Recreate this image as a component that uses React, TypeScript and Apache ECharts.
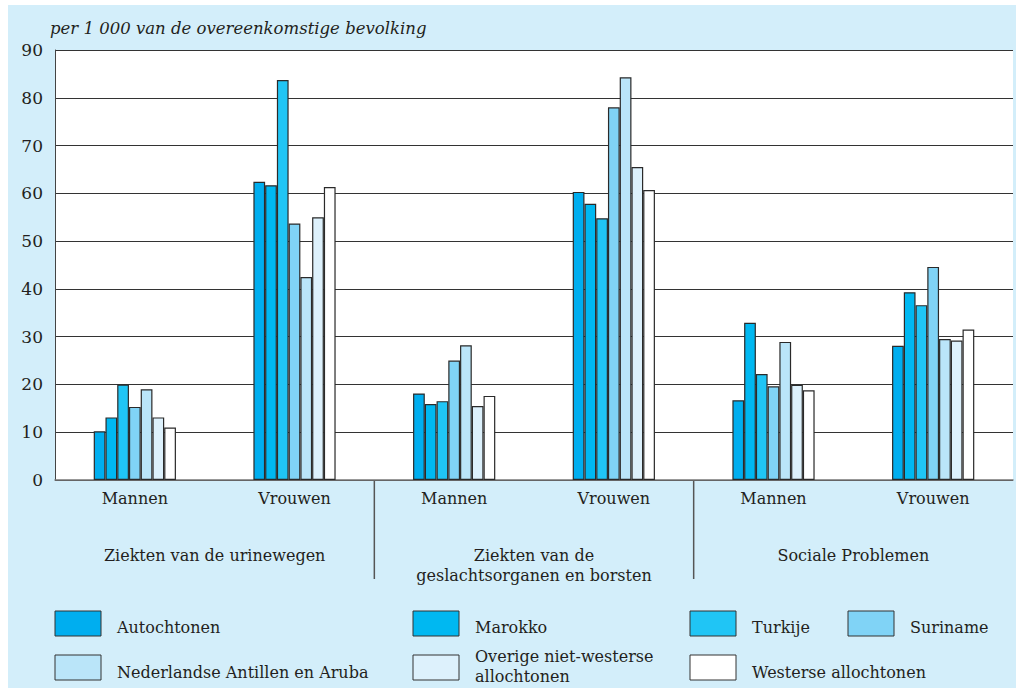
import React, { useEffect, useRef } from "react";
import * as echarts from "echarts";

const categories = ["Mannen", "Vrouwen", "Mannen", "Vrouwen", "Mannen", "Vrouwen"];
const groupLabels = [
  "Ziekten van de urinewegen",
  "Ziekten van de\ngeslachtsorganen en borsten",
  "Sociale Problemen",
];
const seriesNames = [
  "Autochtonen",
  "Marokko",
  "Turkije",
  "Suriname",
  "Nederlandse Antillen en Aruba",
  "Overige niet-westerse\nallochtonen",
  "Westerse allochtonen",
];
const autochtonen = [10.2, 62.4, 18.1, 60.3, 16.7, 28.1];
const marokko = [13.1, 61.7, 15.9, 57.8, 32.9, 39.3];
const turkije = [20.0, 83.7, 16.5, 54.8, 22.2, 36.6];
const suriname = [15.3, 53.7, 25.0, 78.0, 19.6, 44.6];
const antillen = [19.0, 42.5, 28.2, 84.3, 28.9, 29.5];
const overige = [13.1, 55.0, 15.5, 65.5, 19.9, 29.2];
const westerse = [11.0, 61.3, 17.6, 60.7, 18.8, 31.5];
const seriesValues = [autochtonen, marokko, turkije, suriname, antillen, overige, westerse];
const yTicks = { min: 0, max: 90, interval: 10 };

const colors = ["#00aeef", "#00b8f1", "#20c5f5", "#80d3f6", "#bae5f9", "#ddf1fc", "#ffffff"];
const FONT = "DejaVu Serif";
const TEXT = "#231f20";

// legend layout (x of square, y of square)
const legendPos = [
  { x: 55, y: 611 },
  { x: 413, y: 611 },
  { x: 690, y: 611 },
  { x: 848, y: 611 },
  { x: 55, y: 655 },
  { x: 413, y: 655 },
  { x: 690, y: 655 },
];

export default function App() {
  const ref = useRef<HTMLDivElement>(null);
  useEffect(() => {
    const chart = echarts.init(ref.current!, undefined, { renderer: "svg" });
    const gLeft = 55;
    const gRight = 1013;
    const catW = (gRight - gLeft) / categories.length;

    const graphics: any[] = [
      { type: "rect", z: -10, shape: { x: 8, y: 5, width: 1008, height: 683 }, style: { fill: "#d3eefa" } },
      {
        type: "text",
        x: 50,
        y: 28,
        style: { text: "per 1 000 van de overeenkomstige bevolking", font: `italic 16.5px "${FONT}"`, fill: TEXT, verticalAlign: "middle" },
      },
    ];
    groupLabels.forEach((g, i) => {
      const cx = gLeft + catW * (2 * i + 1);
      graphics.push({
        type: "text",
        x: cx,
        y: 545,
        style: { text: g, font: `16px "${FONT}"`, fill: TEXT, align: "center", verticalAlign: "top", lineHeight: 20 },
      });
      if (i > 0) {
        const sx = gLeft + catW * 2 * i;
        graphics.push({ type: "line", shape: { x1: sx, y1: 480, x2: sx, y2: 579 }, style: { stroke: "#555", lineWidth: 1.5 } });
      }
    });
    seriesNames.forEach((n, i) => {
      const p = legendPos[i];
      graphics.push({
        type: "rect",
        shape: { x: p.x, y: p.y, width: 46, height: 25 },
        style: { fill: colors[i], stroke: "#333", lineWidth: 1 },
      });
      const twoLine = n.includes("\n");
      graphics.push({
        type: "text",
        x: p.x + 62,
        y: twoLine ? p.y + 11 : p.y + (i >= 4 ? 17 : 16),
        style: { text: n, font: `16px "${FONT}"`, fill: TEXT, verticalAlign: "middle", lineHeight: 20 },
      });
    });

    chart.setOption({
      animation: false,
      backgroundColor: "#ffffff",
      textStyle: { fontFamily: FONT },
      grid: { left: gLeft, right: 1016 - gRight, top: 50, bottom: 208, show: true, backgroundColor: "#ffffff", borderWidth: 0 },
      xAxis: {
        type: "category",
        data: categories,
        axisTick: { show: false },
        axisLine: { show: true, lineStyle: { color: "#777", width: 1.5 } },
        axisLabel: { color: TEXT, fontSize: 16, fontFamily: FONT, margin: 10 },
      },
      yAxis: {
        type: "value",
        min: yTicks.min,
        max: yTicks.max,
        interval: yTicks.interval,
        axisLine: { show: true, lineStyle: { color: "#444", width: 1 } },
        axisTick: { show: false },
        splitLine: { lineStyle: { color: "#333", width: 1 } },
        axisLabel: { color: TEXT, fontSize: 17, fontFamily: FONT, margin: 12 },
      },
      series: seriesNames.map((n, i) => ({
        type: "bar",
        name: n,
        data: seriesValues[i],
        barGap: "0%",
        barCategoryGap: "48.5%",
        itemStyle: { color: colors[i], borderColor: "#2a2a2a", borderWidth: 1.2 },
      })),
      graphic: graphics,
    });
    return () => chart.dispose();
  }, []);
  return <div ref={ref} style={{ position: "absolute", left: 0, top: 0, width: 1016, height: 688 }} />;
}
